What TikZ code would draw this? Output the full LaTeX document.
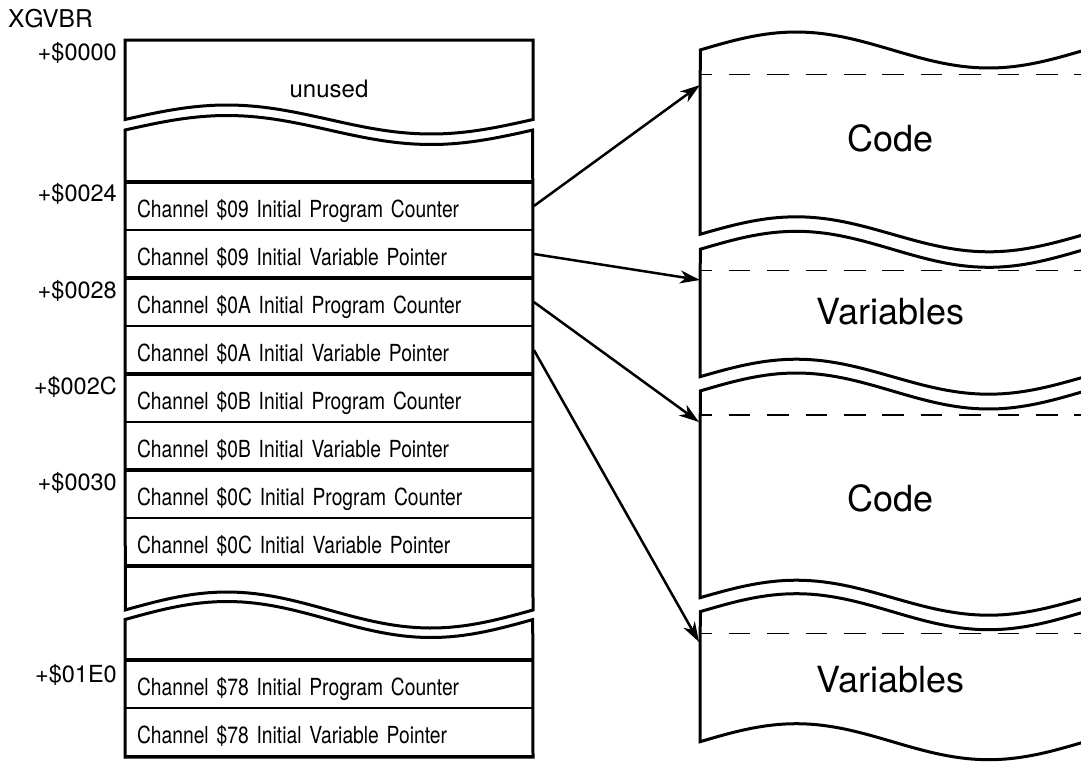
\documentclass[tikz,border=0pt]{standalone}
\usepackage{fontspec}
\setmainfont{TeX Gyre Heros}
\newfontfamily\narrowfont[FakeStretch=0.82, WordSpace=0.5]{TeX Gyre Heros}
\usetikzlibrary{arrows.meta}
\tikzset{
  rowcell/.style={draw, line width=1.8pt, minimum width=408pt, minimum height=48pt,
    inner xsep=12pt, inner ysep=0pt, text width=384pt, align=left,
    text height=22pt, text depth=0pt, font=\narrowfont\fontsize{23.5}{28}\selectfont},
  outline/.style={line width=3pt, line join=miter},
  sepline/.style={line width=3.2pt},
  addr/.style={anchor=base east, inner sep=0pt, font=\fontsize{23.5}{28}\selectfont},
  big/.style={anchor=base, inner sep=0pt, font=\fontsize{36}{40}\selectfont},
  dashline/.style={line width=1.3pt, dash pattern=on 21.7pt off 16.7pt, dash phase=9.7pt},
  ptr/.style={line width=2.5pt, -{Stealth[length=20pt, width=13pt, inset=6pt]}},
}
\begin{document}
\begin{tikzpicture}[x=1pt, y=-1pt]
\useasboundingbox (0,0) rectangle (1081,761);
\clip (0,0) rectangle (1081,761);
\fill[white] (0,0) rectangle (1081,761);

% ---- left column rows ----
\node[rowcell] (r1) at (329,206) {Channel \$09 Initial Program Counter};
\node[rowcell] (r2) at (329,254) {Channel \$09 Initial Variable Pointer};
\node[rowcell] (r3) at (329,302) {Channel \$0A Initial Program Counter};
\node[rowcell] (r4) at (329,350) {Channel \$0A Initial Variable Pointer};
\node[rowcell] (r5) at (329,398) {Channel \$0B Initial Program Counter};
\node[rowcell] (r6) at (329,446) {Channel \$0B Initial Variable Pointer};
\node[rowcell] (r7) at (329,494) {Channel \$0C Initial Program Counter};
\node[rowcell] (r8) at (329,542) {Channel \$0C Initial Variable Pointer};
\node[rowcell] (r9) at (329,684) {Channel \$78 Initial Program Counter};
\node[rowcell] (r10) at (329,732) {Channel \$78 Initial Variable Pointer};

% ---- left column outlines ----
\draw[outline] (125,119.5) -- (125,40) -- (533,40) -- (533,119.5)
  -- plot[domain=0:1, samples=60] ({533-408*\x},{119.5+14.5*sin(360*\x)}) -- cycle;
\draw[outline] plot[domain=0:1, samples=60] ({125+408*\x},{130-14.5*sin(360*\x)})
  -- (533,610) -- plot[domain=0:1, samples=60] ({533-408*\x},{610+18*sin(360*\x)}) -- cycle;
\draw[outline] plot[domain=0:1, samples=60] ({125+408*\x},{619.5-18*sin(360*\x)})
  -- (533,757) -- (125,757) -- cycle;
\foreach \yy in {182,278,374,470,566,660}
  \draw[sepline] (125,\yy) -- (533,\yy);

\node[anchor=base, inner sep=0pt, font=\fontsize{24}{28}\selectfont] (unused) at (329,97.6) {unused};

% ---- labels ----
\node[anchor=base west, inner sep=0pt, font=\fontsize{24.5}{28}\selectfont] (xgvbr) at (8,27.5) {XGVBR};
\node[addr] (a0) at (117,60) {+\$0000};
\node[addr] (a1) at (117,201.7) {+\$0024};
\node[addr] (a2) at (117,298) {+\$0028};
\node[addr] (a3) at (117,394) {+\$002C};
\node[addr] (a4) at (117,490) {+\$0030};
\node[addr] (a5) at (117,682.5) {+\$01E0};

% ---- right panels ----
\draw[outline] plot[domain=0:1, samples=60] ({1085-385*\x},{50+18*sin(360*\x)})
  -- (700,234.3) -- plot[domain=0:1, samples=60] ({700+385*\x},{234.3-17.5*sin(360*\x)});
\draw[outline] plot[domain=0:1, samples=60] ({1085-385*\x},{249.3+18*sin(360*\x)})
  -- (700,376.7) -- plot[domain=0:1, samples=60] ({700+385*\x},{376.7-17.5*sin(360*\x)});
\draw[outline] plot[domain=0:1, samples=60] ({1085-385*\x},{391+18*sin(360*\x)})
  -- (700,597.7) -- plot[domain=0:1, samples=60] ({700+385*\x},{597.7-17.5*sin(360*\x)});
\draw[outline] plot[domain=0:1, samples=60] ({1085-385*\x},{611.7+18*sin(360*\x)})
  -- (700,741.7) -- plot[domain=0:1, samples=60] ({700+385*\x},{741.7-18*sin(360*\x)});

\draw[dashline] (700,74.3) -- (1081,74.3);
\draw[dashline] (700,270.7) -- (1081,270.7);
\draw[dashline] (700,415) -- (1081,415);
\draw[dashline] (700,633.3) -- (1081,633.3);

\node[big] (code1) at (890.5,151.7) {Code};
\node[big] (var1) at (890.5,324.3) {Variables};
\node[big] (code2) at (890.5,511.7) {Code};
\node[big] (var2) at (890.5,692.7) {Variables};

% ---- pointers ----
\coordinate (p1) at (700,85);
\coordinate (p2) at (700,280);
\coordinate (p3) at (699,422);
\coordinate (p4) at (699,642);
\draw[ptr] (r1.east) -- (p1);
\draw[ptr] (r2.east) -- (p2);
\draw[ptr] (r3.east) -- (p3);
\draw[ptr] (r4.east) -- (p4);
\end{tikzpicture}
\end{document}
